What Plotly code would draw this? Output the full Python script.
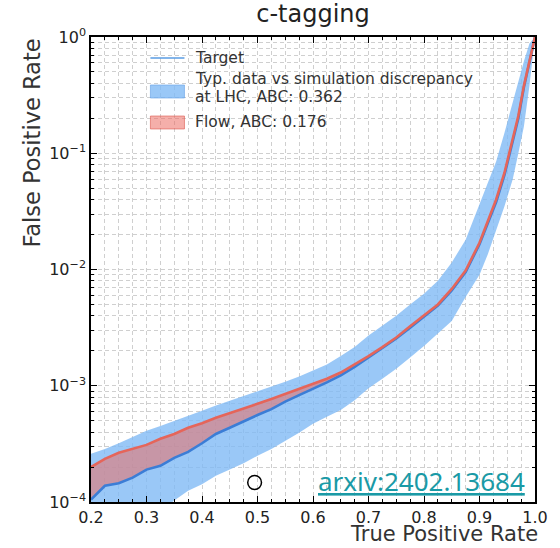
import plotly.graph_objects as go

# ---- data ----
tpr = [0.200, 0.225, 0.250, 0.275, 0.300, 0.325, 0.350, 0.375, 0.400, 0.425,
       0.450, 0.475, 0.500, 0.525, 0.550, 0.575, 0.600, 0.625, 0.650, 0.675,
       0.700, 0.725, 0.750, 0.775, 0.800, 0.825, 0.850, 0.875, 0.900, 0.915,
       0.930, 0.945, 0.960, 0.970, 0.980, 0.990, 1.000]

target_fpr = [1.05e-4, 1.38e-4, 1.45e-4, 1.62e-4, 1.9e-4, 2.05e-4, 2.4e-4, 2.7e-4, 3.2e-4, 3.85e-4,
              4.35e-4, 4.95e-4, 5.6e-4, 6.3e-4, 7.3e-4, 8.3e-4, 9.4e-4, 1.07e-3, 1.23e-3, 1.45e-3,
              1.75e-3, 2.1e-3, 2.55e-3, 3.15e-3, 3.9e-3, 4.9e-3, 6.6e-3, 9.5e-3, 0.0165, 0.025,
              0.038, 0.065, 0.13, 0.20, 0.37, 0.62, 1.0]

flow_fpr = [2.0e-4, 2.35e-4, 2.65e-4, 2.85e-4, 3.1e-4, 3.5e-4, 3.85e-4, 4.35e-4, 4.75e-4, 5.3e-4,
            5.8e-4, 6.3e-4, 7.0e-4, 7.7e-4, 8.5e-4, 9.4e-4, 1.04e-3, 1.15e-3, 1.3e-3, 1.52e-3,
            1.8e-3, 2.15e-3, 2.6e-3, 3.25e-3, 4.0e-3, 5.0e-3, 6.8e-3, 9.8e-3, 0.017, 0.026,
            0.040, 0.068, 0.135, 0.21, 0.38, 0.63, 1.0]

band_upper = [2.6e-4, 2.85e-4, 3.2e-4, 3.6e-4, 4.1e-4, 4.5e-4, 5.0e-4, 5.5e-4, 6.1e-4, 6.75e-4,
              7.4e-4, 8.1e-4, 8.9e-4, 9.8e-4, 1.08e-3, 1.2e-3, 1.35e-3, 1.52e-3, 1.8e-3, 2.15e-3,
              2.7e-3, 3.3e-3, 4.0e-3, 5.0e-3, 6.2e-3, 8.0e-3, 0.0115, 0.018, 0.036, 0.055,
              0.085, 0.15, 0.28, 0.42, 0.62, 0.88, 1.0]

band_lower = [4.0e-5, 4.6e-5, 5.3e-5, 6.0e-5, 7.0e-5, 8.3e-5, 1.03e-4, 1.25e-4, 1.42e-4, 1.68e-4,
              1.9e-4, 2.15e-4, 2.5e-4, 2.85e-4, 3.35e-4, 3.95e-4, 4.7e-4, 5.4e-4, 6.2e-4, 7.5e-4,
              9.5e-4, 1.15e-3, 1.4e-3, 1.75e-3, 2.2e-3, 2.8e-3, 3.6e-3, 5.8e-3, 9.0e-3, 0.0135,
              0.022, 0.035, 0.060, 0.10, 0.17, 0.38, 1.0]

x_ticks = [0.2, 0.3, 0.4, 0.5, 0.6, 0.7, 0.8, 0.9, 1.0]
x_tick_labels = ["0.2", "0.3", "0.4", "0.5", "0.6", "0.7", "0.8", "0.9", "1.0"]
y_ticks = [1e-4, 1e-3, 1e-2, 1e-1, 1]
y_tick_labels = ["10<sup>−4</sup>", "10<sup>−3</sup>", "10<sup>−2</sup>", "10<sup>−1</sup>", "10<sup>0</sup>"]

legend_labels = ["Target",
                 "Typ. data vs simulation discrepancy",
                 "at LHC, ABC: 0.362",
                 "Flow, ABC: 0.176"]

FONT = "DejaVu Sans"
BLUE_BAND = "rgba(125,185,245,0.78)"
RED_FILL = "rgba(236,110,100,0.55)"
RED_LINE = "#e5655a"
BLUE_LINE = "#3b7dd6"
GRID = "#cfcfcf"

# minor tick positions on the log axis (2..9 x 10^k)
y_minor = [m * 10.0 ** k for k in range(-4, 0) for m in range(2, 10)]
x_minor = [round(0.2 + 0.025 * i, 3) for i in range(33)]

fig = go.Figure()

fig.add_trace(go.Scatter(
    x=tpr + tpr[::-1], y=band_upper + band_lower[::-1],
    fill="toself", fillcolor=BLUE_BAND, line=dict(width=0),
    mode="lines", showlegend=False, hoverinfo="skip"))

fig.add_trace(go.Scatter(
    x=tpr + tpr[::-1], y=flow_fpr + target_fpr[::-1],
    fill="toself", fillcolor=RED_FILL, line=dict(width=0),
    mode="lines", showlegend=False, hoverinfo="skip"))

fig.add_trace(go.Scatter(
    x=tpr, y=target_fpr, mode="lines",
    line=dict(color=BLUE_LINE, width=2.6), showlegend=False))

fig.add_trace(go.Scatter(
    x=tpr, y=flow_fpr, mode="lines",
    line=dict(color=RED_LINE, width=2.6), showlegend=False))

fig.update_xaxes(
    range=[0.2, 1.0], tickvals=x_ticks, ticktext=x_tick_labels,
    ticks="inside", ticklen=6, tickcolor="black", showline=True, linecolor="black",
    linewidth=1.5, mirror="ticks", showgrid=True,
    gridcolor=GRID, griddash="4px,3px", gridwidth=1,
    minor=dict(tickmode="array", tickvals=x_minor, ticks="inside", ticklen=3,
               tickcolor="black", showgrid=True, gridcolor=GRID, griddash="4px,3px",
               gridwidth=1),
    tickfont=dict(family=FONT, size=16, color="#222"), zeroline=False)

fig.update_yaxes(
    type="log", range=[-4, 0], tickvals=y_ticks, ticktext=y_tick_labels,
    ticks="inside", ticklen=6, tickcolor="black", showline=True, linecolor="black",
    linewidth=1.5, mirror="ticks", showgrid=True,
    gridcolor=GRID, griddash="4px,3px", gridwidth=1,
    minor=dict(tickmode="array", tickvals=y_minor, ticks="inside", ticklen=3,
               tickcolor="black", showgrid=True, gridcolor=GRID, griddash="4px,3px",
               gridwidth=1),
    tickfont=dict(family=FONT, size=16, color="#222"), zeroline=False)

# custom legend (matplotlib style rectangular patches)
lx0, lx1, ltx = 0.1338, 0.2105, 0.2325
shapes = [
    dict(type="line", xref="paper", yref="paper", x0=lx0, x1=lx1, y0=0.9548, y1=0.9548,
         line=dict(color="#5a9de3", width=1.5)),
    dict(type="rect", xref="paper", yref="paper", x0=lx0, x1=lx1, y0=0.8688, y1=0.8968,
         fillcolor=BLUE_BAND, line=dict(color="rgba(100,160,230,0.6)", width=1)),
    dict(type="rect", xref="paper", yref="paper", x0=lx0, x1=lx1, y0=0.8022, y1=0.8301,
         fillcolor=RED_FILL, line=dict(color="rgba(220,90,80,0.6)", width=1)),
    dict(type="circle", xref="paper", yref="paper", x0=0.353, x1=0.384, y0=0.027, y1=0.057,
         line=dict(color="black", width=1.5), fillcolor="rgba(0,0,0,0)"),
]

leg_font = dict(family=FONT, size=15.5, color="#333")
leg_y = [0.9548, 0.9095, 0.8700, 0.8172]
annotations = [
    dict(text=t, xref="paper", yref="paper", x=ltx, y=yy, xanchor="left",
         yanchor="middle", showarrow=False, font=leg_font, borderpad=0)
    for t, yy in zip(legend_labels, leg_y)
]
annotations += [
    dict(text="False Positive Rate", xref="paper", yref="paper", x=-0.135, y=1.0,
         xanchor="center", yanchor="top", textangle=-90, showarrow=False,
         font=dict(family=FONT, size=22.5, color="#333")),
    dict(text="True Positive Rate", xref="paper", yref="paper", x=1.01, y=-0.097,
         xanchor="right", yanchor="bottom", showarrow=False, borderpad=0,
         font=dict(family=FONT, size=21, color="#333")),
    dict(text="<u>arxiv:2402.13684</u>", xref="paper", yref="paper", x=0.745, y=0.045,
         xanchor="center", yanchor="middle", showarrow=False,
         font=dict(family="Noto Sans", size=26, color="#1a9aa6")),
]

fig.update_layout(
    width=560, height=548,
    margin=dict(l=91, r=13, t=37, b=46),
    paper_bgcolor="white", plot_bgcolor="white",
    title=dict(text="c-tagging", xref="paper", x=0.5, xanchor="center",
               y=0.975, yanchor="middle",
               font=dict(family=FONT, size=24, color="#222")),
    showlegend=False,
    annotations=annotations,
    shapes=shapes,
)

fig.write_html("out.html")
